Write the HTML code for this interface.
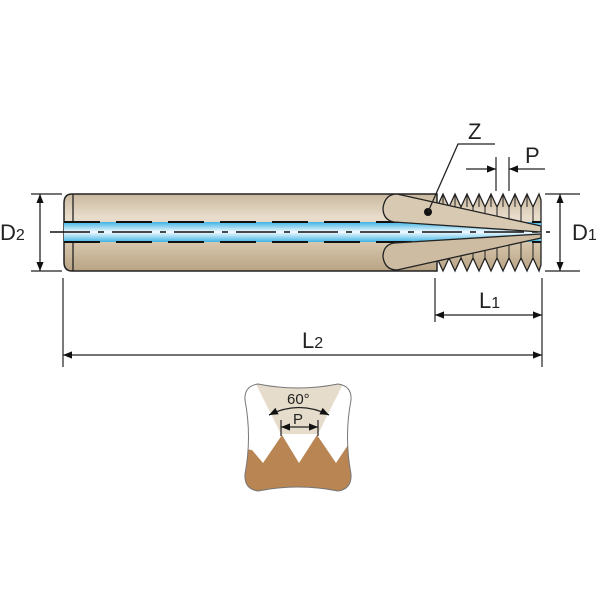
<!DOCTYPE html>
<html><head><meta charset="utf-8"><style>
html,body{margin:0;padding:0;background:#fff;width:600px;height:600px;overflow:hidden}
text{font-family:"Liberation Sans",sans-serif;fill:#222}
</style></head><body>
<svg width="600" height="600" viewBox="0 0 600 600" xmlns="http://www.w3.org/2000/svg">
<defs>
<linearGradient id="body" x1="0" y1="0" x2="0" y2="1">
<stop offset="0" stop-color="#c9b89e"/><stop offset="0.3" stop-color="#e8dccb"/><stop offset="0.6" stop-color="#d9c9b0"/><stop offset="1" stop-color="#b8a384"/>
</linearGradient>
<linearGradient id="blue" x1="0" y1="0" x2="0" y2="1">
<stop offset="0" stop-color="#3fb3e3"/><stop offset="0.5" stop-color="#f2fbff"/><stop offset="1" stop-color="#3fb3e3"/>
</linearGradient>
<marker id="ar" viewBox="0 0 10 10" refX="10" refY="5" markerWidth="9" markerHeight="9" orient="auto-start-reverse" markerUnits="userSpaceOnUse"><path d="M0,1 L10,5 L0,9 Z" fill="#111"/></marker>
</defs>
<path d="M72,194 L437,194 L437,271 L72,271 Q64,271 64,262 L64,203 Q64,194 72,194 Z" fill="url(#body)" stroke="#222" stroke-width="1.5"/>
<line x1="73" y1="194" x2="73" y2="271" stroke="#222" stroke-width="1.3"/>
<path d="M437,207 L443,194 L449,207 L455,194 L461,207 L467,194 L473,207 L479,194 L485,207 L491,194 L497,207 L503,194 L509,207 L515,194 L521,207 L527,194 L533,207 L539,194 L541,200 L541,265 L539,271 L533,258 L527,271 L521,258 L515,271 L509,258 L503,271 L497,258 L491,271 L485,258 L479,271 L473,258 L467,271 L461,258 L455,271 L449,258 L443,271 L437,258 Z" fill="url(#body)" stroke="#222" stroke-width="1.3"/>
<g stroke="#222" stroke-width="1">
<line x1="449" y1="207" x2="449" y2="258"/><line x1="461" y1="207" x2="461" y2="258"/><line x1="473" y1="207" x2="473" y2="258"/><line x1="485" y1="207" x2="485" y2="258"/><line x1="497" y1="207" x2="497" y2="258"/><line x1="509" y1="207" x2="509" y2="258"/><line x1="521" y1="207" x2="521" y2="258"/><line x1="533" y1="207" x2="533" y2="258"/>
<line x1="443" y1="194" x2="443" y2="207"/><line x1="455" y1="194" x2="455" y2="207"/><line x1="467" y1="194" x2="467" y2="207"/><line x1="479" y1="194" x2="479" y2="207"/><line x1="491" y1="194" x2="491" y2="207"/><line x1="503" y1="194" x2="503" y2="207"/><line x1="515" y1="194" x2="515" y2="207"/><line x1="527" y1="194" x2="527" y2="207"/>
</g>
<rect x="64" y="222" width="477" height="20" fill="url(#blue)"/>
<g stroke="#111" stroke-width="2">
<line x1="64" y1="222" x2="541" y2="222" stroke-dasharray="36,16"/>
<line x1="64" y1="242" x2="541" y2="242" stroke-dasharray="36,16"/>
<line x1="50" y1="232" x2="550" y2="232" stroke-dasharray="40,8,6,8" stroke-width="1.5"/>
</g>
<path d="M397,194 L541,226 L541,232 L394,222 Q383,220 383,208 Q385,194 397,194 Z" fill="#d8c9b2" stroke="#222" stroke-width="1.3"/>
<path d="M397,270 L541,238 L541,234 L394,243 Q383,245 383,257 Q385,270 397,270 Z" fill="#cdbca2" stroke="#222" stroke-width="1.3"/>
<circle cx="428" cy="212" r="4" fill="#111"/>
<polyline points="428,212 458,144 495,144" fill="none" stroke="#222" stroke-width="1.3"/>
<text x="468" y="139" font-size="22">Z</text>
<line x1="496" y1="157" x2="496" y2="191" stroke="#222" stroke-width="1.2"/>
<line x1="509" y1="157" x2="509" y2="191" stroke="#222" stroke-width="1.2"/>
<line x1="466" y1="169" x2="496" y2="169" stroke="#222" stroke-width="1.2" marker-end="url(#ar)"/>
<line x1="545" y1="169" x2="509" y2="169" stroke="#222" stroke-width="1.2" marker-end="url(#ar)"/>
<text x="525" y="163" font-size="22">P</text>
<line x1="31" y1="194" x2="62" y2="194" stroke="#222" stroke-width="1.2"/>
<line x1="31" y1="271" x2="62" y2="271" stroke="#222" stroke-width="1.2"/>
<line x1="40" y1="194" x2="40" y2="271" stroke="#222" stroke-width="1.3" marker-start="url(#ar)" marker-end="url(#ar)"/>
<text x="0" y="240" font-size="22">D<tspan font-size="16">2</tspan></text>
<line x1="545" y1="194" x2="580" y2="194" stroke="#222" stroke-width="1.2"/>
<line x1="545" y1="271" x2="580" y2="271" stroke="#222" stroke-width="1.2"/>
<line x1="560" y1="194" x2="560" y2="271" stroke="#222" stroke-width="1.3" marker-start="url(#ar)" marker-end="url(#ar)"/>
<text x="572" y="240" font-size="22">D<tspan font-size="16">1</tspan></text>
<line x1="435" y1="278" x2="435" y2="322" stroke="#222" stroke-width="1.2"/>
<line x1="542" y1="278" x2="542" y2="367" stroke="#222" stroke-width="1.2"/>
<line x1="63" y1="278" x2="63" y2="367" stroke="#222" stroke-width="1.2"/>
<line x1="435" y1="315" x2="542" y2="315" stroke="#222" stroke-width="1.3" marker-start="url(#ar)" marker-end="url(#ar)"/>
<line x1="63" y1="355" x2="542" y2="355" stroke="#222" stroke-width="1.3" marker-start="url(#ar)" marker-end="url(#ar)"/>
<text x="479" y="308" font-size="22">L<tspan font-size="16">1</tspan></text>
<text x="302" y="348" font-size="22">L<tspan font-size="16">2</tspan></text>
<clipPath id="pc"><path d="M258,384 Q298,392 338,384 Q352,386 351,400 Q344,437 351,474 Q352,489 338,491 Q298,483 258,491 Q244,489 245,474 Q252,437 245,400 Q244,386 258,384 Z"/></clipPath>
<g clip-path="url(#pc)">
<rect x="240" y="380" width="120" height="115" fill="#fff"/>
<path d="M254,380 L345,380 L318,434 L281,434 Z" fill="#e6dccb"/>
<path d="M240,448 L252,450 L263,463 L282,435 L299,463 L317,435 L336,463 L348,445 L360,445 L360,495 L240,495 Z" fill="#b98553"/>
</g>
<path d="M258,384 Q298,392 338,384 Q352,386 351,400 Q344,437 351,474 Q352,489 338,491 Q298,483 258,491 Q244,489 245,474 Q252,437 245,400 Q244,386 258,384 Z" fill="none" stroke="#777" stroke-width="1"/>
<path d="M269,415 Q299,400 329,415" fill="none" stroke="#222" stroke-width="1.3" marker-start="url(#ar)" marker-end="url(#ar)"/>
<line x1="281" y1="420" x2="281" y2="436" stroke="#222" stroke-width="1.2"/>
<line x1="318" y1="420" x2="318" y2="436" stroke="#222" stroke-width="1.2"/>
<line x1="281" y1="427" x2="318" y2="427" stroke="#222" stroke-width="1.2" marker-start="url(#ar)" marker-end="url(#ar)"/>
<text x="287" y="404" font-size="15">60°</text>
<text x="293" y="424" font-size="15">P</text>
</svg>
</body></html>
